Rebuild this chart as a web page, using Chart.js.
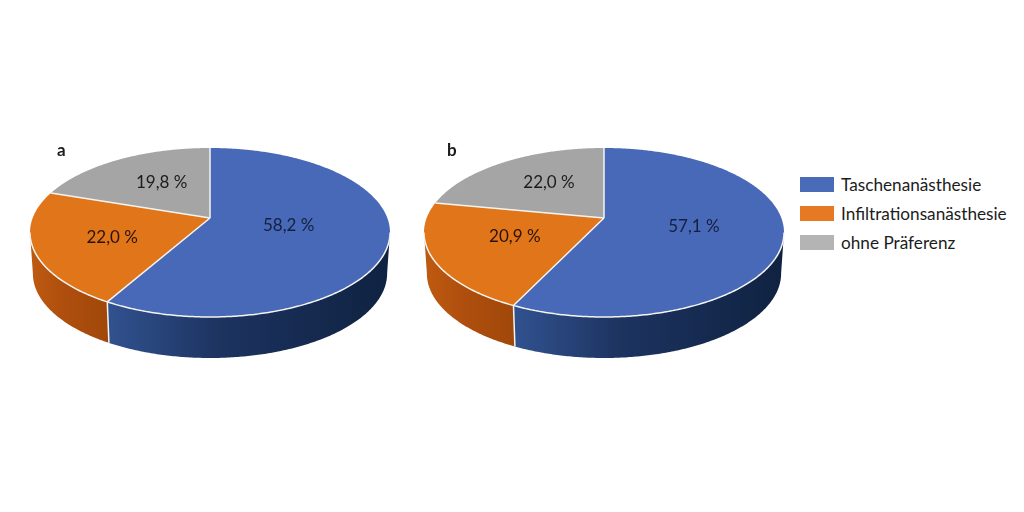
<!DOCTYPE html>
<html>
<head>
<meta charset="utf-8">
<title>Präferenz Anästhesie</title>
<script src="https://cdn.jsdelivr.net/npm/chart.js@4"></script>
<style>
    html, body { margin: 0; padding: 0; background: #fff; }
    body { position: relative; width: 1024px; height: 512px; overflow: hidden; font-family: Lato, sans-serif; color: #1c1c1c; }
    canvas { position: absolute; top: 42px; }
    #chartA { left: 20px; }
    #chartB { left: 414px; }
    .panel { position: absolute; top: 139px; font-weight: 700; font-size: 17px; }
    .legend-item { position: absolute; left: 800px; height: 15px; line-height: 15px; font-size: 17.2px; white-space: nowrap; }
    .legend-item i { position: absolute; left: 0; top: 0; width: 34px; height: 15px; }
    .legend-item span { position: absolute; left: 41px; top: 0; }
</style>
</head>
<body>
<canvas id="chartA" width="380" height="380"></canvas>
<canvas id="chartB" width="380" height="380"></canvas>
<div class="panel" style="left:57px">a</div>
<div class="panel" style="left:447px">b</div>
<div id="legend"></div>
<script>
const categories = ['Taschenanästhesie', 'Infiltrationsanästhesie', 'ohne Präferenz'];
const valuesA = [58.2, 22.0, 19.8];
const valuesB = [57.1, 20.9, 22.0];

const topColors = ['#4868b8', '#e1751a', '#a5a5a5'];
const legendColors = ['#4a6cb8', '#e67a22', '#b4b4b4'];
const wallColors = [['#31528f', '#1d3360', '#0f2241'], ['#bf5a10', '#b04f0e', '#a0480a'], ['#888', '#888', '#888']];

// picture is a real perspective view, so the disc goes through a projection
const squash = 84.5 / 180;
const tilt = 14.5 / 84.5;
const depth = 41;
const bottomScale = 0.984;

function project(el, angle, f) {
    const u = f * Math.cos(angle), v = f * Math.sin(angle);
    const den = 1 - tilt * v;
    return {
        x: el.x + el.outerRadius * Math.sqrt(1 - tilt * tilt) * u / den,
        y: el.y + 0.5 + el.outerRadius * squash * (v - tilt) / den
    };
}

function lower(el, p) {
    return { x: el.x + (p.x - el.x) * bottomScale, y: p.y + depth };
}

function angleList(from, to) {
    const list = [];
    const n = Math.max(2, Math.ceil((to - from) / 0.01));
    for (let i = 0; i <= n; i++) list.push(from + (to - from) * i / n);
    return list;
}

const pie3d = {
    id: 'pie3d',
    beforeDatasetDraw(chart, args) {
        const ctx = chart.ctx;
        const arcs = args.meta.data;
        const minA = Math.asin(tilt), maxA = Math.PI - Math.asin(tilt);
        ctx.save();
        ctx.lineJoin = 'round';

        // side wall, only the part facing us
        arcs.forEach((el, i) => {
            const from = Math.max(el.startAngle, minA), to = Math.min(el.endAngle, maxA);
            if (to <= from) return;
            const upper = angleList(from, to).map(a => project(el, a, 1));
            const xs = upper.map(p => p.x);
            const g = ctx.createLinearGradient(Math.min(...xs), 0, Math.max(...xs), 0);
            g.addColorStop(0, wallColors[i][0]);
            g.addColorStop(0.4, wallColors[i][1]);
            g.addColorStop(1, wallColors[i][2]);
            ctx.beginPath();
            upper.forEach((p, k) => k ? ctx.lineTo(p.x, p.y) : ctx.moveTo(p.x, p.y));
            upper.slice().reverse().forEach(p => {
                const q = lower(el, p);
                ctx.lineTo(q.x, q.y);
            });
            ctx.closePath();
            ctx.fillStyle = g;
            ctx.fill();
        });

        // top face
        arcs.forEach((el, i) => {
            const apex = project(el, 0, 0);
            ctx.beginPath();
            ctx.moveTo(apex.x, apex.y);
            angleList(el.startAngle, el.endAngle).forEach(a => {
                const p = project(el, a, 1);
                ctx.lineTo(p.x, p.y);
            });
            ctx.closePath();
            ctx.fillStyle = topColors[i];
            ctx.fill();
        });

        // white seams and the lit front rim
        ctx.strokeStyle = '#f4f4f0';
        ctx.lineWidth = 1.5;
        arcs.forEach(el => {
            const apex = project(el, 0, 0), p = project(el, el.startAngle, 1);
            ctx.beginPath();
            ctx.moveTo(apex.x, apex.y);
            ctx.lineTo(p.x, p.y);
            ctx.stroke();
            if (el.startAngle > minA && el.startAngle < maxA) {
                const q = lower(el, p);
                ctx.beginPath();
                ctx.moveTo(p.x, p.y);
                ctx.lineTo(q.x, q.y);
                ctx.stroke();
            }
        });
        ctx.beginPath();
        angleList(minA, maxA).forEach((a, k) => {
            const p = project(arcs[0], a, 1);
            k ? ctx.lineTo(p.x, p.y) : ctx.moveTo(p.x, p.y);
        });
        ctx.stroke();
        ctx.restore();
        return false;
    },
    afterDatasetsDraw(chart, args, opts) {
        const ctx = chart.ctx;
        const values = chart.data.datasets[0].data;
        ctx.save();
        ctx.font = '17px Lato, sans-serif';
        ctx.textAlign = 'center';
        ctx.textBaseline = 'middle';
        chart.getDatasetMeta(0).data.forEach((el, i) => {
            const p = project(el, (el.startAngle + el.endAngle) / 2, opts.fractions[i]);
            ctx.fillStyle = i === 0 ? '#14203f' : i === 1 ? '#2a1408' : '#1c1c1c';
            ctx.fillText(values[i].toFixed(1).replace('.', ',') + ' %', p.x, p.y + opts.shifts[i]);
        });
        ctx.restore();
    }
};

function makePie(id, values, fractions, shifts) {
    return new Chart(document.getElementById(id), {
        type: 'pie',
        data: {
            labels: categories,
            datasets: [{ data: values, backgroundColor: topColors, borderWidth: 0 }]
        },
        options: {
            responsive: false,
            animation: false,
            layout: { padding: 10 },
            plugins: {
                legend: { display: false },
                tooltip: { enabled: false },
                pie3d: { fractions: fractions, shifts: shifts }
            }
        },
        plugins: [pie3d]
    });
}

makePie('chartA', valuesA, [0.45, 0.57, 0.50], [-2, 2, -4]);
makePie('chartB', valuesB, [0.51, 0.54, 0.52], [-1, -2, -5]);

const legend = document.getElementById('legend');
categories.forEach((name, i) => {
    const item = document.createElement('div');
    item.className = 'legend-item';
    item.style.top = (177 + i * 29) + 'px';
    item.innerHTML = '<i style="background:' + legendColors[i] + '"></i><span>' + name + '</span>';
    legend.appendChild(item);
});
</script>
</body>
</html>
